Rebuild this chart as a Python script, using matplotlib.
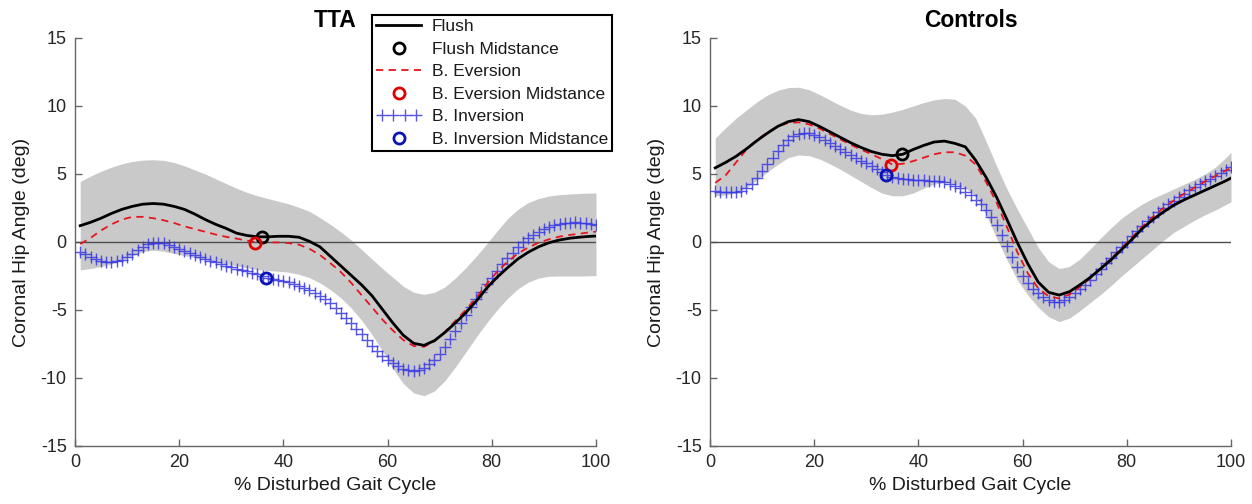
import matplotlib
matplotlib.use("Agg")
import matplotlib.pyplot as plt
from matplotlib.legend_handler import HandlerLine2D

plt.rcParams['font.family'] = ['Liberation Sans', 'DejaVu Sans']
plt.rcParams['axes.unicode_minus'] = False

# ---------------- data ----------------
x_line = list(range(1, 100, 2)) + [100]
x_mark = list(range(1, 101))

tta_flush = [1.2, 1.45, 1.75, 2.1, 2.4, 2.62, 2.78, 2.83, 2.78, 2.62, 2.4, 2.05, 1.65, 1.3, 1.0,
             0.65, 0.48, 0.38, 0.38, 0.42, 0.42, 0.35, 0.05, -0.35, -1.05, -1.75, -2.45, -3.15,
             -3.95, -4.95, -5.95, -6.85, -7.45, -7.6, -7.25, -6.65, -5.95, -5.2, -4.35, -3.4,
             -2.6, -1.9, -1.25, -0.75, -0.35, -0.05, 0.15, 0.28, 0.36, 0.42, 0.44]
tta_ever = [-0.15, 0.3, 0.85, 1.3, 1.65, 1.85, 1.85, 1.75, 1.6, 1.4, 1.15, 0.95, 0.75, 0.55, 0.38,
            0.25, 0.1, -0.03, -0.03, -0.03, -0.08, -0.2, -0.5, -0.95, -1.55, -2.2, -3.0, -3.9,
            -4.8, -5.7, -6.5, -7.2, -7.65, -7.7, -7.3, -6.6, -5.8, -5.0, -4.1, -3.1, -2.2,
            -1.45, -0.85, -0.4, -0.05, 0.2, 0.4, 0.52, 0.62, 0.72, 0.76]
tta_upper = [4.45, 4.85, 5.2, 5.5, 5.75, 5.92, 6.02, 6.05, 6.0, 5.85, 5.6, 5.3, 5.0, 4.65, 4.3,
             3.95, 3.65, 3.4, 3.2, 3.0, 2.8, 2.55, 2.25, 1.8, 1.3, 0.75, 0.15, -0.55, -1.25,
             -1.95, -2.6, -3.25, -3.7, -3.85, -3.7, -3.3, -2.65, -1.9, -1.05, -0.15, 0.8, 1.7,
             2.4, 2.9, 3.2, 3.38, 3.48, 3.53, 3.57, 3.6, 3.6]
tta_lower = [-2.05, -1.95, -1.8, -1.6, -1.35, -1.0, -0.72, -0.6, -0.68, -0.85, -1.0, -1.15, -1.3,
             -1.45, -1.6, -1.75, -1.9, -2.03, -2.1, -2.15, -2.22, -2.38, -2.62, -3.0, -3.5, -4.1,
             -4.85, -5.75, -6.8, -8.0, -9.3, -10.4, -11.1, -11.3, -10.95, -10.2, -9.2, -8.1,
             -7.0, -5.95, -5.0, -4.15, -3.45, -2.95, -2.65, -2.52, -2.5, -2.5, -2.5, -2.48, -2.47]
tta_inv = [-0.7, -0.9, -1.1, -1.25, -1.38, -1.45, -1.47, -1.42, -1.3, -1.1,
           -0.85, -0.6, -0.35, -0.18, -0.08, -0.05, -0.1, -0.2, -0.35, -0.5,
           -0.65, -0.8, -0.95, -1.1, -1.25, -1.38, -1.5, -1.62, -1.74, -1.85,
           -1.95, -2.05, -2.15, -2.25, -2.35, -2.5, -2.65, -2.72, -2.8, -2.88,
           -2.97, -3.07, -3.2, -3.35, -3.52, -3.72, -3.95, -4.22, -4.52, -4.85,
           -5.2, -5.58, -5.97, -6.38, -6.8, -7.22, -7.62, -8.0, -8.35, -8.65,
           -8.92, -9.15, -9.32, -9.42, -9.45, -9.4, -9.25, -9.0, -8.65, -8.2,
           -7.7, -7.15, -6.57, -5.98, -5.38, -4.8, -4.2, -3.65, -3.12, -2.62,
           -2.12, -1.65, -1.2, -0.78, -0.38, 0.0, 0.3, 0.55, 0.77, 0.95,
           1.1, 1.22, 1.32, 1.38, 1.42, 1.44, 1.43, 1.4, 1.33, 1.25]

ctl_flush = [5.45, 5.85, 6.3, 6.85, 7.45, 8.0, 8.5, 8.85, 9.0, 8.85, 8.5, 8.1, 7.7, 7.3, 6.95,
             6.65, 6.45, 6.35, 6.45, 6.8, 7.1, 7.35, 7.42, 7.25, 7.0, 6.0, 4.75, 3.3, 1.65,
             -0.05, -1.6, -2.95, -3.7, -3.9, -3.65, -3.15, -2.6, -1.95, -1.3, -0.55, 0.2, 1.0,
             1.65, 2.2, 2.7, 3.1, 3.45, 3.8, 4.15, 4.5, 4.7]
ctl_ever = [4.35, 4.9, 5.85, 6.8, 7.5, 8.05, 8.5, 8.75, 8.8, 8.65, 8.35, 7.95, 7.55, 7.15, 6.8,
            6.45, 6.1, 5.7, 5.75, 5.95, 6.2, 6.45, 6.6, 6.6, 6.35, 5.7, 4.4, 2.9, 1.1, -0.75,
            -2.3, -3.4, -4.0, -4.15, -3.85, -3.3, -2.65, -1.95, -1.2, -0.45, 0.35, 1.15, 1.85,
            2.5, 3.05, 3.55, 4.0, 4.45, 4.85, 5.25, 5.45]
ctl_upper = [7.65, 8.4, 9.1, 9.7, 10.3, 10.8, 11.15, 11.35, 11.38, 11.2, 10.85, 10.45, 10.05,
             9.7, 9.45, 9.35, 9.4, 9.55, 9.75, 10.0, 10.25, 10.45, 10.55, 10.5, 10.0, 9.1, 7.4,
             5.6, 3.9, 2.4, 1.0, -0.4, -1.45, -1.95, -1.8, -1.25, -0.5, 0.3, 1.05, 1.75, 2.3,
             2.8, 3.2, 3.55, 3.9, 4.25, 4.6, 5.0, 5.5, 6.2, 6.6]
ctl_lower = [3.4, 3.45, 3.6, 4.0, 4.55, 5.15, 5.7, 6.2, 6.4, 6.35, 6.1, 5.75, 5.35, 4.9, 4.45,
             4.0, 3.6, 3.4, 3.4, 3.6, 3.95, 4.25, 4.4, 4.3, 4.0, 3.35, 2.0, 0.3, -1.3, -2.8,
             -3.9, -4.8, -5.5, -5.85, -5.6, -5.05, -4.45, -3.85, -3.2, -2.5, -1.85, -1.2,
             -0.55, 0.1, 0.7, 1.15, 1.6, 2.0, 2.35, 2.75, 2.95]
ctl_inv = [3.72, 3.7, 3.68, 3.68, 3.7, 3.78, 3.98, 4.3, 4.72, 5.2,
           5.7, 6.2, 6.7, 7.12, 7.48, 7.78, 7.97, 8.03, 7.98, 7.88,
           7.73, 7.53, 7.3, 7.07, 6.85, 6.63, 6.41, 6.2, 5.99, 5.78,
           5.57, 5.35, 5.13, 4.93, 4.8, 4.7, 4.64, 4.6, 4.57, 4.55,
           4.53, 4.5, 4.48, 4.45, 4.4, 4.3, 4.15, 3.95, 3.7, 3.42,
           3.12, 2.78, 2.35, 1.85, 1.25, 0.5, -0.3, -1.1, -1.85, -2.5,
           -3.0, -3.42, -3.77, -4.07, -4.3, -4.4, -4.38, -4.25, -4.05, -3.78,
           -3.47, -3.13, -2.76, -2.37, -1.97, -1.57, -1.17, -0.77, -0.37, 0.03,
           0.42, 0.8, 1.17, 1.52, 1.86, 2.18, 2.48, 2.77, 3.04, 3.3,
           3.55, 3.79, 4.02, 4.24, 4.45, 4.65, 4.86, 5.07, 5.3, 5.55]

# midstance points (x, y)
tta_mid_flush = (35.9, 0.35)
tta_mid_ever = (34.6, -0.05)
tta_mid_inv = (36.7, -2.65)
ctl_mid_flush = (36.8, 6.45)
ctl_mid_ever = (34.7, 5.65)
ctl_mid_inv = (33.7, 4.95)

titles = ["TTA", "Controls"]
xticks = [0, 20, 40, 60, 80, 100]
yticks = [-15, -10, -5, 0, 5, 10, 15]
legend_labels = ["Flush", "Flush Midstance", "B. Eversion", "B. Eversion Midstance",
                 "B. Inversion", "B. Inversion Midstance"]

# ---------------- figure ----------------
W, H = 1252, 504
fig = plt.figure(figsize=(W / 100, H / 100), dpi=100)
ax_pos = [[75 / W, 1 - 446 / H, 521 / W, 408 / H],
          [710 / W, 1 - 446 / H, 521 / W, 408 / H]]

panels = [
    (tta_flush, tta_ever, tta_upper, tta_lower, tta_inv, tta_mid_flush, tta_mid_ever, tta_mid_inv),
    (ctl_flush, ctl_ever, ctl_upper, ctl_lower, ctl_inv, ctl_mid_flush, ctl_mid_ever, ctl_mid_inv),
]

band_col = '#c9c9c9'
inv_col = (0.22, 0.22, 0.9)
axes = []
handles = None
for i, (flush, ever, up, lo, inv, mf, me, mi) in enumerate(panels):
    ax = fig.add_axes(ax_pos[i])
    axes.append(ax)
    ax.fill_between(x_line, lo, up, color=band_col, lw=0, zorder=1)
    ax.axhline(0, color='0.3', lw=1.0, zorder=2)
    h1, = ax.plot(x_line, flush, color='black', lw=2.0, zorder=5)
    h3, = ax.plot(x_line, ever, color='#e8141e', lw=1.3, ls=(0, (4, 3)), zorder=4)
    h5, = ax.plot(x_mark, inv, ls='none', marker='+', ms=8.5, mew=1.0, color=inv_col,
                  alpha=0.85, zorder=3)
    h2, = ax.plot([mf[0]], [mf[1]], ls='none', marker='o', ms=8, mfc='none', mec='black',
                  mew=2.0, zorder=6)
    h4, = ax.plot([me[0]], [me[1]], ls='none', marker='o', ms=8, mfc='none', mec='#e00000',
                  mew=2.0, zorder=6)
    h6, = ax.plot([mi[0]], [mi[1]], ls='none', marker='o', ms=8, mfc='none', mec='#0a14b4',
                  mew=2.0, zorder=6)
    ax.set_xlim(0, 100)
    ax.set_ylim(-15, 15)
    ax.set_xticks(xticks)
    ax.set_yticks(yticks)
    for s in ['top', 'right']:
        ax.spines[s].set_visible(False)
    for s in ['left', 'bottom']:
        ax.spines[s].set_color('0.4')
        ax.spines[s].set_linewidth(1.0)
    ax.tick_params(direction='in', length=5, width=1.0, color='0.4', labelsize=13,
                   labelcolor='0.15', pad=6)
    ax.set_xlabel('% Disturbed Gait Cycle', fontsize=14, color='0.1', labelpad=4)
    ax.set_ylabel('Coronal Hip Angle (deg)', fontsize=14, color='0.1', labelpad=8)
    ax.set_title(titles[i], fontsize=16.5, fontweight='bold', pad=8)
    if i == 0:
        handles = [h1, h2, h3, h4, h5, h6]

leg = axes[0].legend(handles, legend_labels, loc='upper left',
                     bbox_to_anchor=(372 / W, 1 - 15 / H), bbox_transform=fig.transFigure,
                     fontsize=12.5, frameon=True, fancybox=False, framealpha=1,
                     edgecolor='black', borderpad=0.25, labelspacing=0.42,
                     handlelength=2.6, handletextpad=0.6, borderaxespad=0,
                     handler_map={handles[4]: HandlerLine2D(numpoints=4)}, numpoints=1)
leg.get_frame().set_linewidth(1.5)
for t in leg.get_texts():
    t.set_color('0.1')

fig.savefig('out.png', dpi=100)
